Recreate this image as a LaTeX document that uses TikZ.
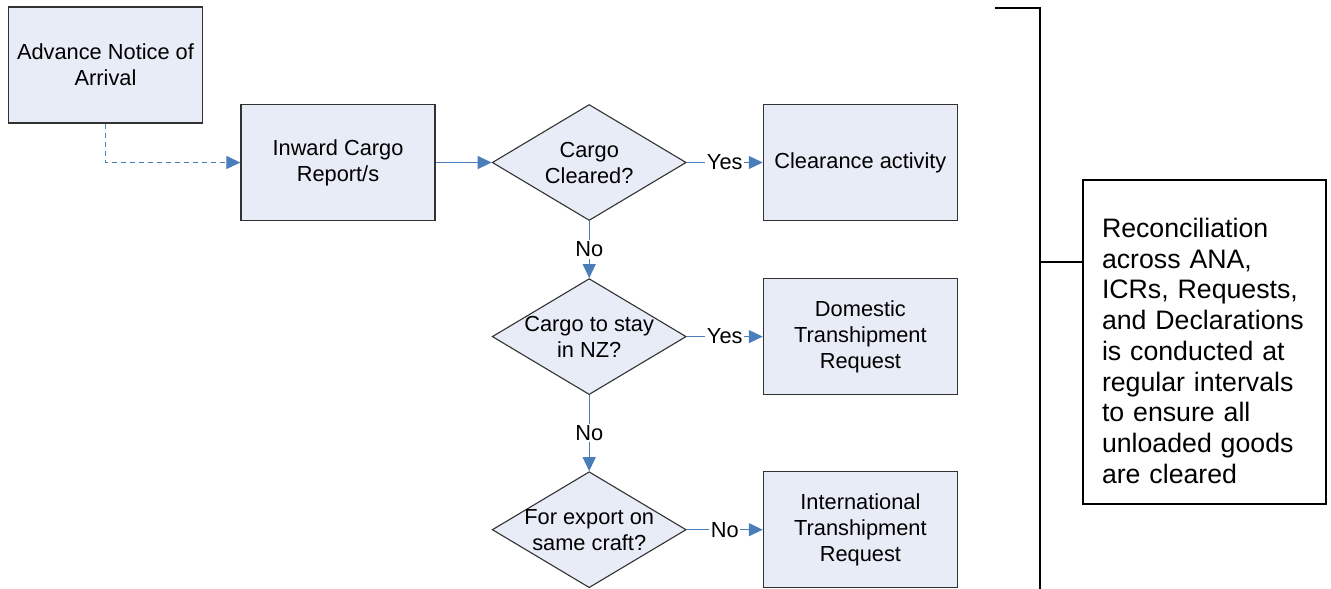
\documentclass[tikz,border=0pt]{standalone}
\usepackage{fontspec}
\setmainfont{Liberation Sans}
\usepackage{tikz}
\usetikzlibrary{arrows.meta,positioning,shapes.geometric}
\definecolor{boxfill}{RGB}{231,236,247}
\definecolor{boxline}{RGB}{50,50,50}
\definecolor{flowblue}{RGB}{74,126,187}
\tikzset{
  procbox/.style={draw=boxline, fill=boxfill, line width=1.3pt, align=center, inner sep=4pt, minimum width=194pt, minimum height=116pt, font=\fontsize{21.8}{26}\selectfont},
  decision/.style={diamond, shape aspect=1.67, draw=boxline, fill=boxfill, line width=1.1pt, align=center, inner sep=-12pt, minimum width=194pt, minimum height=116pt, font=\fontsize{21.8}{26}\selectfont},
  notebox/.style={draw=black, line width=1.5pt, align=left, text width=205pt, inner xsep=19pt, minimum height=324pt, font=\fontsize{26.7}{30.7}\selectfont},
  arrow/.style={draw=flowblue, line width=1.2pt, -{Triangle[length=14pt,width=13pt]}},
  dasharrow/.style={arrow, dashed, dash pattern=on 5pt off 4pt},
  answer/.style={fill=white, inner sep=1.5pt, font=\fontsize{21.8}{26}\selectfont},
  bracket/.style={draw=black, line width=1.8pt}
}
\begin{document}
\begin{tikzpicture}[x=1pt,y=-1pt,node distance=57pt and 76pt]
\useasboundingbox (0,0) rectangle (1331,589);
% main flow
\node[procbox] (ana) at (105.5,65) {Advance Notice of\\Arrival};
\node[procbox] (icr) at (338,162.5) {Inward Cargo\\Report/s};
\node[decision, right=56pt of icr] (cleared) {Cargo\\Cleared?};
\node[procbox, right=of cleared] (activity) {Clearance activity};
\node[decision, below=57pt of cleared] (stay) {Cargo to stay\\in NZ?};
\node[procbox, right=of stay] (domestic) {Domestic\\Transhipment\\Request};
\node[decision, below=76pt of stay] (export) {For export on\\same craft?};
\node[procbox, right=of export] (intl) {International\\Transhipment\\Request};
\draw[dasharrow] (ana.south) |- (icr.west);
\draw[arrow] (icr) -- (cleared);
\draw[arrow] (cleared) -- node[answer] (yes1) {Yes} (activity);
\draw[arrow] (cleared) -- node[answer] (no1) {No} (stay);
\draw[arrow] (stay) -- node[answer] (yes2) {Yes} (domestic);
\draw[arrow] (stay) -- node[answer] (no2) {No} (export);
\draw[arrow] (export) -- node[answer] (no3) {No} (intl);
% reconciliation note
\node[notebox] (recon) at (1204.5,342) {\rule{0pt}{37pt}Reconciliation\\across ANA,\\ICRs, Requests,\\and Declarations\\is conducted at\\regular intervals\\to ensure all\\unloaded goods\\are cleared};
\coordinate (brtop) at (995,8);
\coordinate (brbot) at (1040,589);
\coordinate (brmid) at (1040,262);
\draw[bracket] (brtop) -| (brbot);
\draw[bracket] (brmid) -- (brmid -| recon.west);
\end{tikzpicture}
\end{document}
